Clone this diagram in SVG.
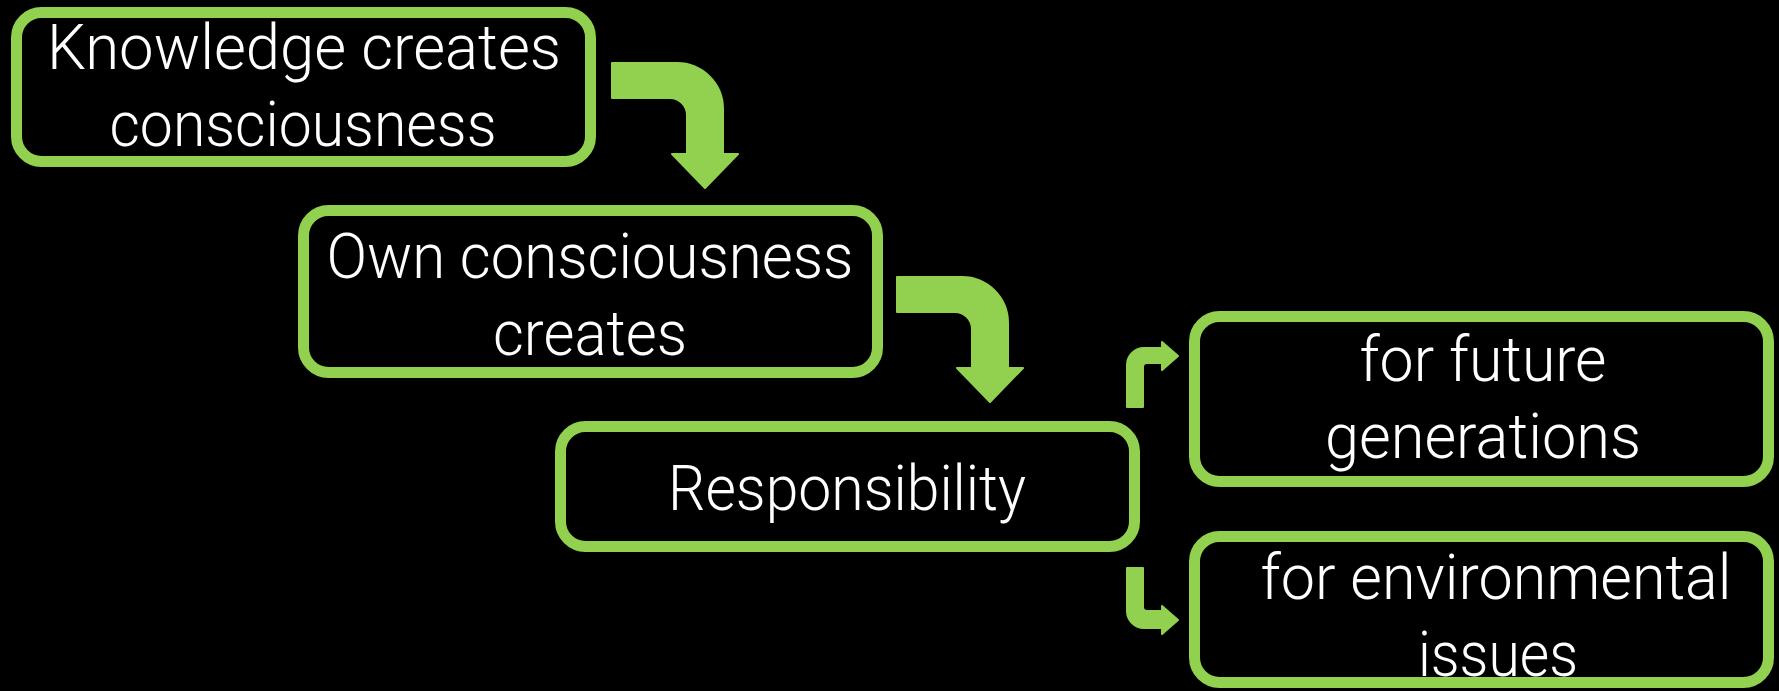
<svg xmlns="http://www.w3.org/2000/svg" width="1779" height="691" viewBox="0 0 1779 691">
<style>
.box{fill:#000;stroke:#92D050;stroke-width:11}
.lbl{fill:#fff;font-family:Roboto,"Liberation Sans",sans-serif;font-size:63px;font-weight:300;text-anchor:middle}
.arr{fill:#92D050;stroke:#92D050;stroke-width:2;stroke-linejoin:round}
</style>
<rect x="0" y="0" width="1779" height="691" fill="#000"/>
<g id="connectors">
<path id="arrow1" class="arr" d="M612,63 H677 A46,46 0 0 1 723,109 V154 H738 L705,188 L672,154 H687 V115 A17,17 0 0 0 670,98 H612 Z"/>
<path id="arrow2" class="arr" transform="translate(285,214)" d="M612,63 H677 A46,46 0 0 1 723,109 V154 H738 L705,188 L672,154 H687 V115 A17,17 0 0 0 670,98 H612 Z"/>
<path id="arrow3" class="arr" d="M1127,407 V365 A17,17 0 0 1 1144,348 H1162 V342 L1178,356 L1162,370 V363 H1147 A4,4 0 0 0 1143,367 V407 Z"/>
<path id="arrow4" class="arr" d="M1127,568 H1143 V607 A4,4 0 0 0 1147,611 H1162 V606 L1178,620 L1162,634 V628 H1144 A17,17 0 0 1 1127,611 Z"/>
</g>
<g id="node1">
<rect class="box" x="16.5" y="12.5" width="574" height="149" rx="25"/>
<text class="lbl" x="304" y="69" textLength="514" lengthAdjust="spacingAndGlyphs">Knowledge creates</text>
<text class="lbl" x="303" y="146" textLength="387" lengthAdjust="spacingAndGlyphs">consciousness</text>
</g>
<g id="node2">
<rect class="box" x="303.5" y="210.5" width="574" height="162" rx="25"/>
<text class="lbl" x="590" y="278" textLength="527" lengthAdjust="spacingAndGlyphs">Own consciousness</text>
<text class="lbl" x="590" y="355" textLength="194" lengthAdjust="spacingAndGlyphs">creates</text>
</g>
<g id="node3">
<rect class="box" x="560.5" y="426.5" width="574" height="120" rx="25"/>
<text class="lbl" x="847" y="510" textLength="358" lengthAdjust="spacingAndGlyphs">Responsibility</text>
</g>
<g id="node4">
<rect class="box" x="1194.5" y="316.5" width="574" height="165" rx="25"/>
<text class="lbl" x="1483" y="381" textLength="247" lengthAdjust="spacingAndGlyphs">for future</text>
<text class="lbl" x="1483" y="458" textLength="316" lengthAdjust="spacingAndGlyphs">generations</text>
</g>
<g id="node5">
<rect class="box" x="1194.5" y="536.5" width="574" height="146" rx="25"/>
<text class="lbl" x="1496" y="599" textLength="471" lengthAdjust="spacingAndGlyphs">for environmental</text>
<text class="lbl" x="1498" y="676" textLength="160" lengthAdjust="spacingAndGlyphs">issues</text>
</g>
</svg>
